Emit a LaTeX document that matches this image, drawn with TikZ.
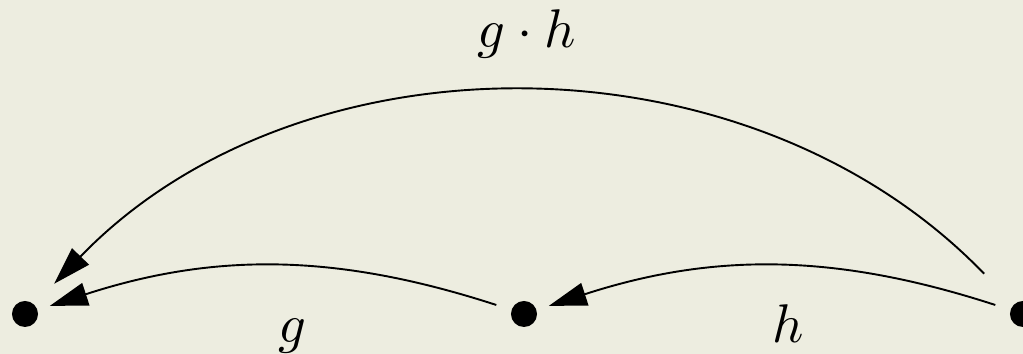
\documentclass[tikz,border=0pt]{standalone}
\usepackage{amsmath}
\usepackage{tikz}
\usetikzlibrary{arrows.meta}
\definecolor{paper}{RGB}{237,237,224}
\tikzset{
  pt/.style={circle,fill=black,inner sep=0pt,minimum size=1.68mm}, % object
  mor/.style={-{Triangle[length=2.45mm,width=1.5mm]},line width=0.35pt}, % arrow
}

\begin{document}
\begin{tikzpicture}[x=6.452mm,y=6.452mm]
  \fill[paper] (0,0) rectangle (10.23,3.54);
  \useasboundingbox (0,0) rectangle (10.23,3.54);
  % the three objects
  \node[pt] (a) at (0.25,0.40) {};
  \node[pt] (b) at (5.24,0.40) {};
  \node[pt] (c) at (10.23,0.40) {};
  % single steps
  \draw[mor,shorten <=0.97mm,shorten >=0.77mm] (b) to[bend right=18] (a);
  \draw[mor,shorten <=0.97mm,shorten >=0.77mm] (c) to[bend right=18] (b);
  % composite
  \draw[mor,shorten <=2.7mm,shorten >=1.8mm] (c) to[bend right=46] (a);
  \node[anchor=base] (lg) at (2.92,0.11) {$g$};
  \node[anchor=base] (lh) at (7.88,0.11) {$h$};
  \node[anchor=base] (lgh) at (5.27,3.06) {$g\cdot h$};
\end{tikzpicture}
\end{document}
